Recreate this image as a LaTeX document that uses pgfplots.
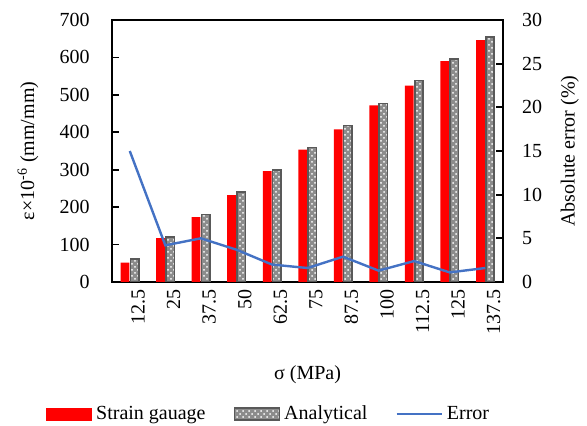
\documentclass[border=0pt]{standalone}
\usepackage{fontspec}
\setmainfont{Liberation Serif}
\usepackage{pgfplots}
\usepackage{pgfplotstable}
\pgfplotsset{compat=1.18}
\usetikzlibrary{patterns}
\definecolor{lineblue}{HTML}{4472C4}
\definecolor{anagray}{HTML}{8C8C8C}
\definecolor{anaedge}{HTML}{595959}
\pgfplotstableread{
x sg an err
0 52 61 15.0
1 117 121 4.2
2 173 180 5.0
3 232 240 3.7
4 296 300 2.0
5 354 359 1.6
6 408 418 2.9
7 472 477 1.3
8 525 538 2.4
9 590 596 1.1
10 646 655 1.6
}\datatable
\begin{document}
\begin{tikzpicture}
\useasboundingbox (-56pt,-72pt) rectangle (237.5pt,141pt);
\pgfplotsset{
  common/.style={
    width=195.5pt, height=131pt, scale only axis,
    xmin=-0.5, xmax=10.5,
    axis line style={line width=0.9pt},
    tick style={line width=0.9pt, black},
    major tick length=3.5pt,
    /pgf/number format/assume math mode=true,
    tick label style={font=\normalsize},
  }
}
\begin{axis}[common,
  ymin=0, ymax=700, ytick={0,100,...,700}, ytick pos=left,
  xtick={0,...,10},
  xticklabels={12.5,25,37.5,50,62.5,75,87.5,100,112.5,125,137.5},
  xticklabel style={rotate=90, anchor=east, yshift=-4.2pt},
  x tick style={draw=none},
  yticklabel style={xshift=-7.7pt},
  ylabel={ε×10\textsuperscript{-6} (mm/mm)},
  ylabel style={at={(axis description cs:-0.2148,0.5)}, anchor=center, rotate=0},
  xlabel={σ (MPa)},
  xlabel style={at={(axis description cs:0.5,0)}, anchor=center, yshift=-46.5pt},
]
\addplot[ybar, bar width=4.4pt, bar shift=-2.4pt, fill=red, draw=none] table[x=x, y=sg] {\datatable};
\addplot[ybar, bar width=4.2pt, bar shift=2.4pt, fill=anagray, draw=anaedge, line width=0.8pt,
  postaction={pattern=crosshatch dots, pattern color=white}] table[x=x, y=an] {\datatable};
\end{axis}
\begin{axis}[common,
  ymin=0, ymax=30, ytick={0,5,...,30},
  axis x line=none, axis y line*=right, ytick pos=right,
  yticklabel style={xshift=6pt},
  ylabel={Absolute error (\%)},
  ylabel style={at={(axis description cs:1.171,0.5)}, anchor=center},
  legend columns=3,
  legend style={at={(axis description cs:0,0)}, anchor=west, xshift=-33pt, yshift=-66pt,
    draw=none, fill=none, inner sep=0pt,
    /tikz/every even column/.append style={column sep=12pt},
    font=\normalsize},
]
\addlegendimage{legend image code/.code={\fill[red] (0pt,-3pt) rectangle (22.5pt,3pt);}}
\addlegendentry{Strain gauage}
\addlegendimage{legend image code/.code={\fill[anagray] (0pt,-3pt) rectangle (22.5pt,3pt);
  \path[pattern=crosshatch dots, pattern color=white] (0pt,-3pt) rectangle (22.5pt,3pt);
  \draw[anaedge, line width=0.8pt] (0pt,-3pt) rectangle (22.5pt,3pt);}}
\addlegendentry{Analytical}
\addplot[lineblue, line width=1.2pt, legend image code/.code={\draw[lineblue, line width=1.2pt] (0pt,0pt) -- (22.5pt,0pt);}] table[x=x, y=err] {\datatable};
\addlegendentry{Error}
\end{axis}
\end{tikzpicture}
\end{document}
